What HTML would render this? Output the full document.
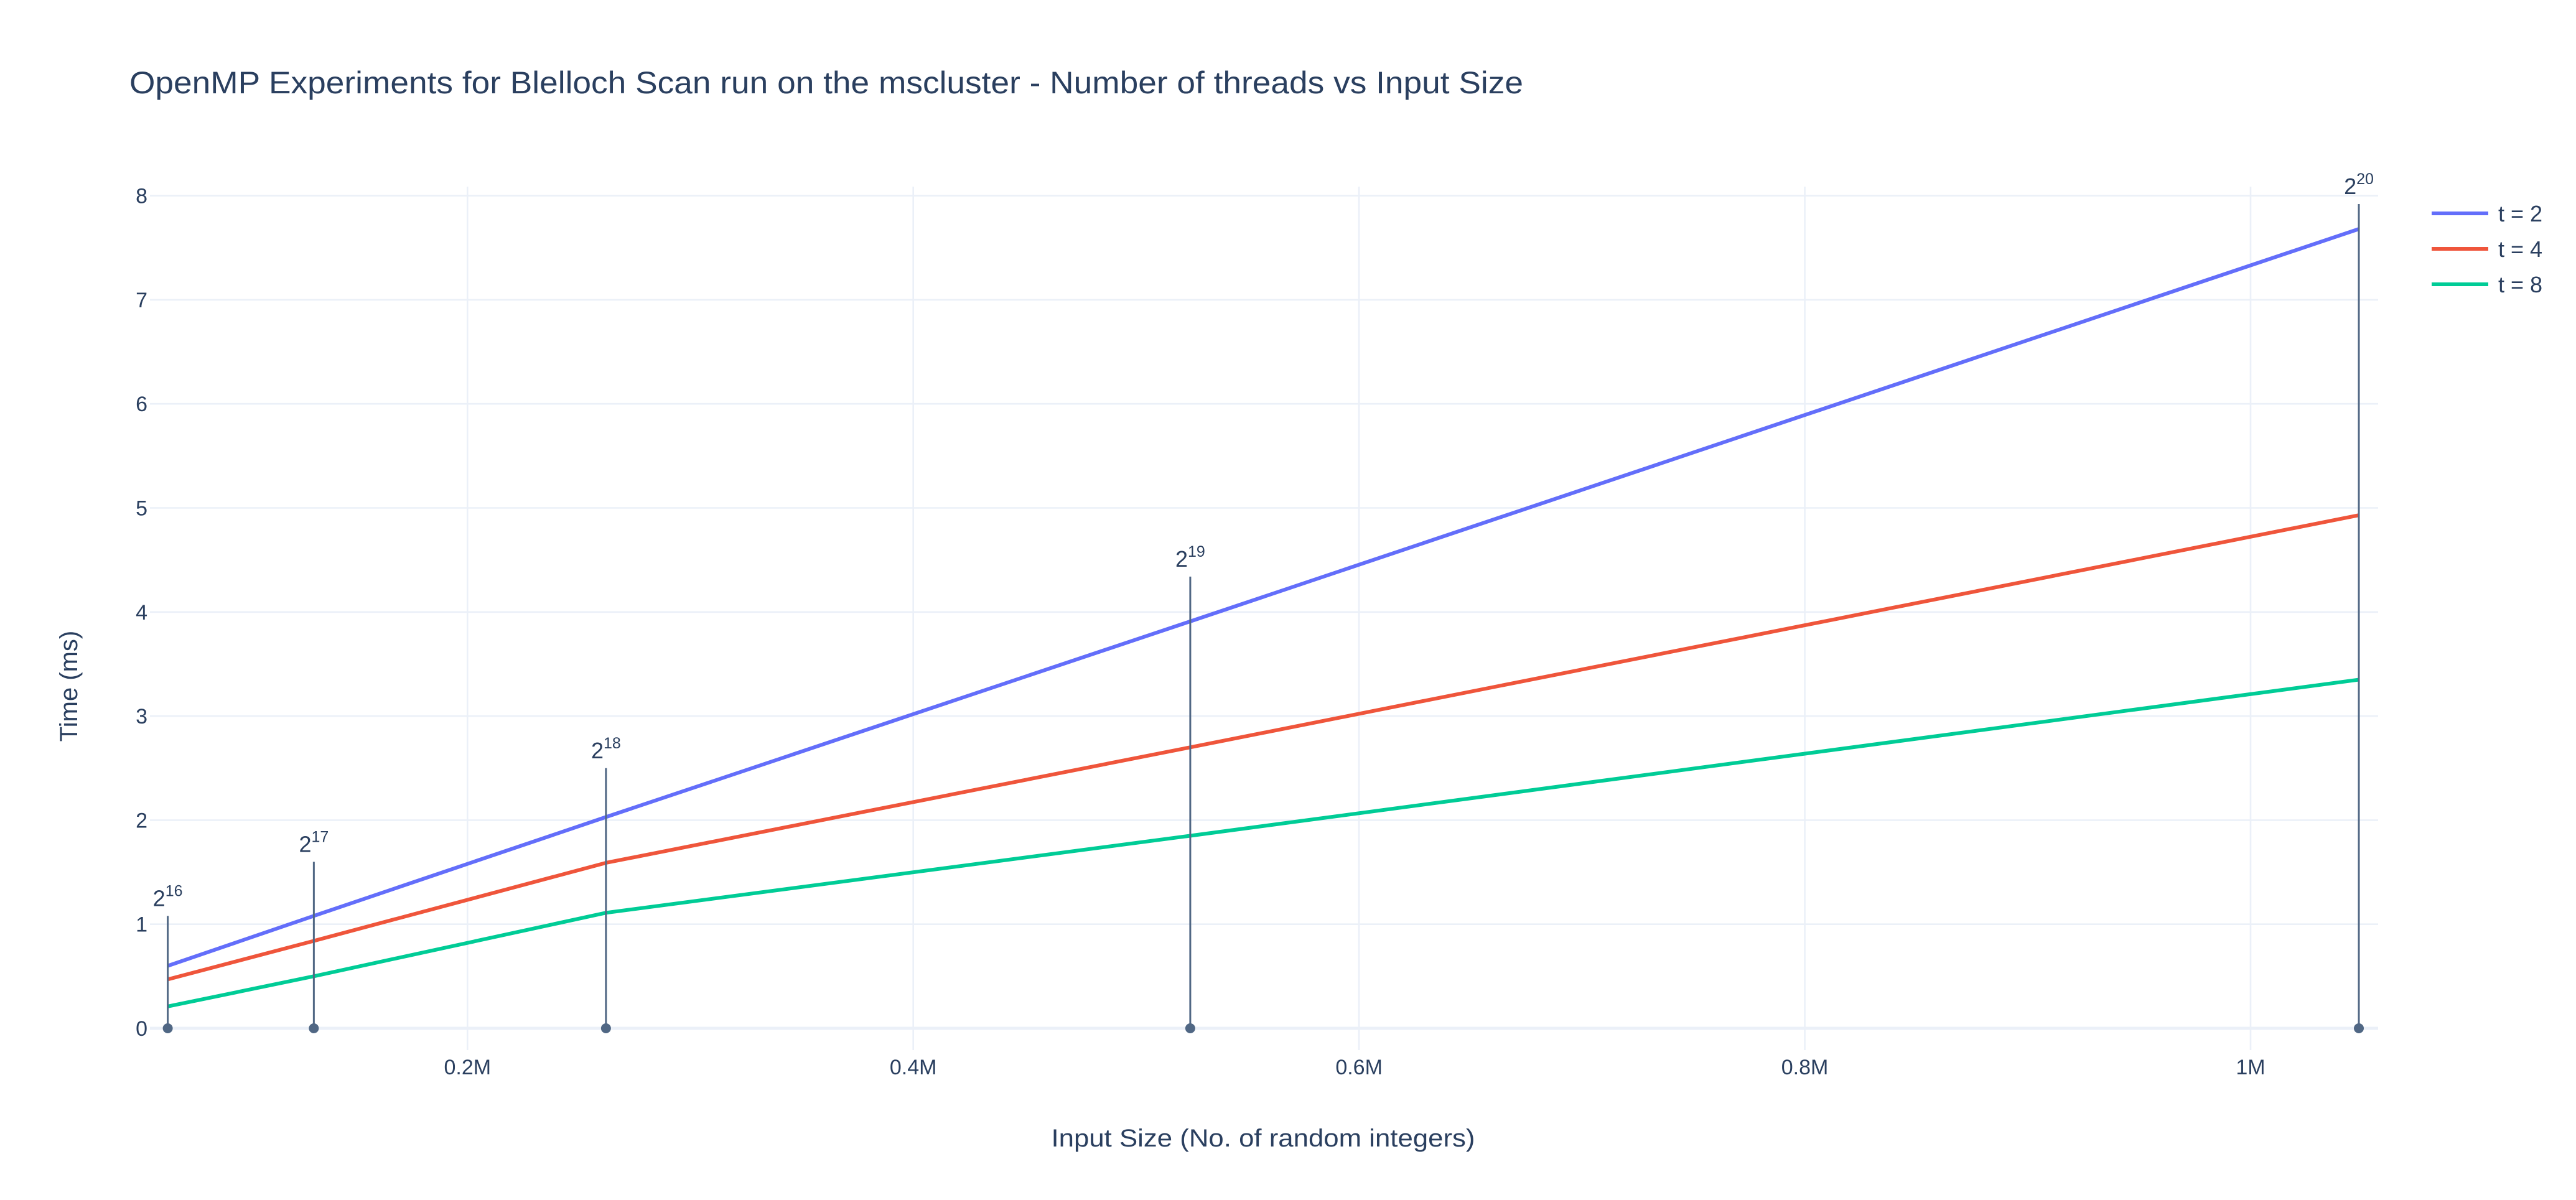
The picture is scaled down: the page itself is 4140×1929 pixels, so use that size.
<!DOCTYPE html>
<html><head><meta charset="utf-8"><style>
html,body{margin:0;padding:0;background:#fff;}
svg{display:block;font-family:"Liberation Sans",sans-serif;}
</style></head><body>
<svg id="chart" width="4140" height="1929" viewBox="0 0 4140 1929">
<rect width="4140" height="1929" fill="#fff"/>
<text x="208" y="150" font-size="50" fill="#2a3f5f" textLength="2240" lengthAdjust="spacingAndGlyphs">OpenMP Experiments for Blelloch Scan run on the mscluster - Number of threads vs Input Size</text>
<g id="grid"></g>
<g id="series"></g>
<g id="annots"></g>
<g id="ticks"></g>
<text x="2030" y="1843" font-size="40" fill="#2a3f5f" text-anchor="middle" textLength="681" lengthAdjust="spacingAndGlyphs">Input Size (No. of random integers)</text>
<text transform="translate(124,1103) rotate(-90)" font-size="40" fill="#2a3f5f" text-anchor="middle">Time (ms)</text>
<g id="legend"></g>
</svg>
<script>
const xValues = [65536, 131072, 262144, 524288, 1048576];
const seriesNames = ["t = 2", "t = 4", "t = 8"];
const t2Values = [0.60, 1.08, 2.03, 3.91, 7.68];
const t4Values = [0.47, 0.84, 1.59, 2.70, 4.93];
const t8Values = [0.21, 0.50, 1.11, 1.85, 3.35];
const annotHeights = [1.08, 1.6, 2.5, 4.34, 7.92];
const annotExps = ["16", "17", "18", "19", "20"];
const yTicks = [0, 1, 2, 3, 4, 5, 6, 7, 8];
const xTicks = [200000, 400000, 600000, 800000, 1000000];
const xTickLabels = ["0.2M", "0.4M", "0.6M", "0.8M", "1M"];

const colors = ["#636efa", "#ef553b", "#00cc96"];
const NS = "http://www.w3.org/2000/svg";
const X0 = 65536, X1 = 1048576, PX0 = 269.6, PX1 = 3791;
const PY0 = 1653, PYU = 167.3;
const PL = 241, PR = 3822, PT = 300, PB = 1688;
function sx(v){ return PX0 + (v - X0) / (X1 - X0) * (PX1 - PX0); }
function sy(v){ return PY0 - v * PYU; }
function mk(tag, attrs, parent){
  const e = document.createElementNS(NS, tag);
  for (const k in attrs) e.setAttribute(k, attrs[k]);
  parent.appendChild(e);
  return e;
}
const grid = document.getElementById('grid');
const ticks = document.getElementById('ticks');
xTicks.forEach((v, i) => {
  const l = mk('line', {x1: sx(v), x2: sx(v), y1: PT, y2: PB, stroke: '#ebf0f8', 'stroke-width': 2.6}, grid);
  
  
  const t = mk('text', {x: sx(v), y: 1727, 'font-size': 34, fill: '#2a3f5f', 'text-anchor': 'middle'}, ticks);
  t.textContent = xTickLabels[i];
  
  
});
yTicks.forEach(v => {
  const l = mk('line', {x1: PL, x2: PR, y1: sy(v), y2: sy(v), stroke: '#ebf0f8', 'stroke-width': v === 0 ? 5 : 2.6}, grid);
  
  
  const t = mk('text', {x: 237, y: sy(v) + 12, 'font-size': 34, fill: '#2a3f5f', 'text-anchor': 'end'}, ticks);
  t.textContent = String(v);
  
  
});
const series = document.getElementById('series');
[t2Values, t4Values, t8Values].forEach((vals, si) => {
  const pts = vals.map((v, i) => sx(xValues[i]) + ',' + sy(v)).join(' ');
  const p = mk('polyline', {points: pts, fill: 'none', stroke: colors[si], 'stroke-width': 6, 'stroke-linejoin': 'round'}, series);
  
  
});
const ann = document.getElementById('annots');
xValues.forEach((x, i) => {
  const g = mk('g', {}, ann);
  
  
  const top = sy(annotHeights[i]);
  mk('line', {x1: sx(x), x2: sx(x), y1: top, y2: sy(0), stroke: '#506784', 'stroke-width': 3}, g);
  mk('ellipse', {cx: sx(x), cy: sy(0), rx: 8, ry: 8, fill: '#506784'}, g);
  const t = mk('text', {x: sx(x), y: top - 16, 'font-size': 36, fill: '#2a3f5f', 'text-anchor': 'middle'}, g);
  const a = mk('tspan', {}, t); a.textContent = '2';
  const b = mk('tspan', {dy: -16, 'font-size': 25}, t); b.textContent = annotExps[i];
});
const leg = document.getElementById('legend');
seriesNames.forEach((n, i) => {
  const g = mk('g', {}, leg);
  
  
  const y = 343 + i * 57;
  mk('line', {x1: 3908, x2: 3999, y1: y, y2: y, stroke: colors[i], 'stroke-width': 6}, g);
  const t = mk('text', {x: 4015, y: y + 13, 'font-size': 36, fill: '#2a3f5f'}, g);
  t.textContent = n;
});
</script>
</body></html>
